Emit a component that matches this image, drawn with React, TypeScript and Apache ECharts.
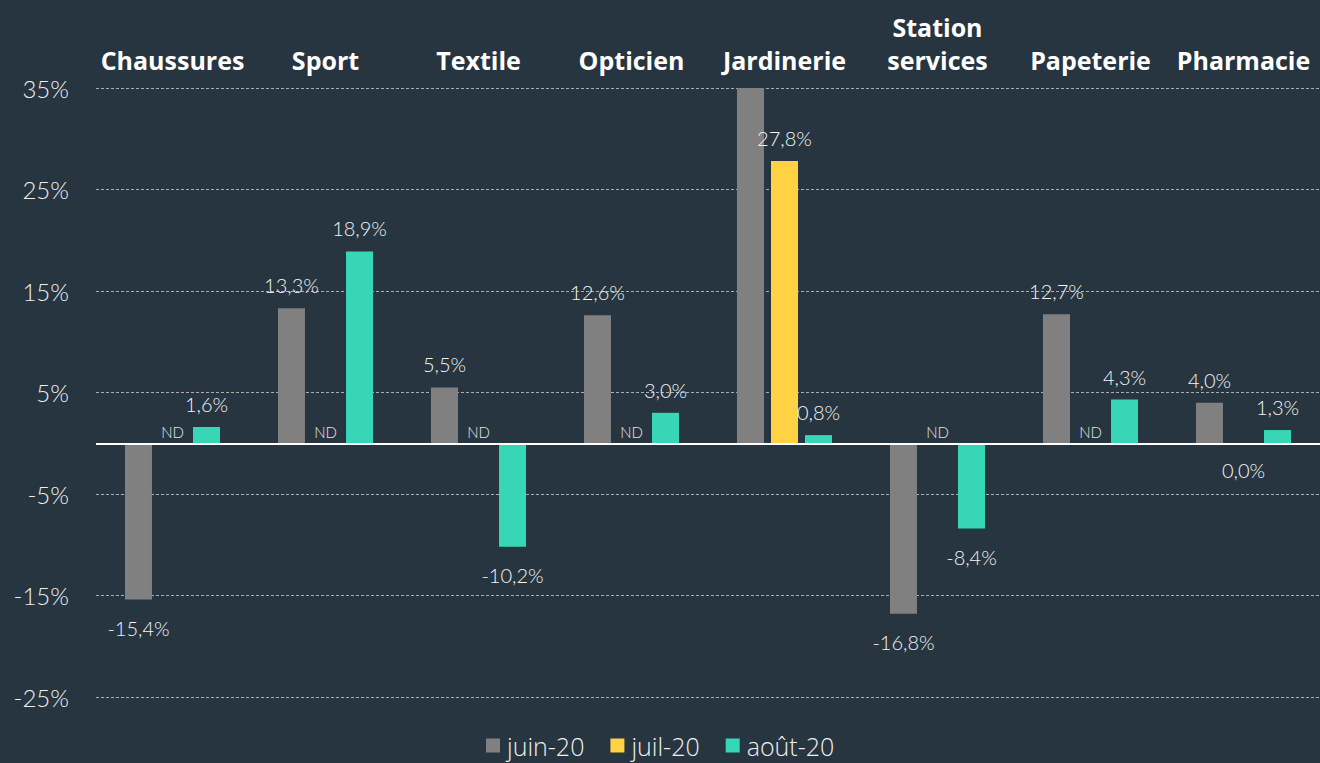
import React, { useEffect, useRef } from "react";
import * as echarts from "echarts";

const categories = ["Chaussures", "Sport", "Textile", "Opticien", "Jardinerie", "Station\nservices", "Papeterie", "Pharmacie"];
const seriesNames = ["juin-20", "juil-20", "août-20"];
// null = ND (non disponible)
const juin: (number | null)[] = [-15.4, 13.3, 5.5, 12.6, 40.0, -16.8, 12.7, 4.0];
const juil: (number | null)[] = [null, null, null, null, 27.8, null, null, 0.0];
const aout: (number | null)[] = [1.6, 18.9, -10.2, 3.0, 0.8, -8.4, 4.3, 1.3];
const colors = ["#808080", "#FFD244", "#37D6B6"];
const hiddenLabel = [[0, 4]]; // [series, index] whose label is outside the plot

const FONT = "Lato";
const CAT_FONT = "Open Sans";

function fmt(v: number) {
  return v.toFixed(1).replace(".", ",") + "%";
}

function buildData(vals: (number | null)[], si: number) {
  return vals.map((v, i) => {
    if (v === null) {
      return {
        value: 0,
        label: {
          show: true,
          position: "top",
          distance: 4,
          formatter: "ND",
          fontSize: 15,
          color: "#e6e6e6",
          fontFamily: FONT,
          fontWeight: 300,
        },
      };
    }
    const hide = hiddenLabel.some(([s, k]) => s === si && k === i);
    const pos = v > 0 ? "top" : "bottom";
    return {
      value: v,
      label: {
        show: !hide,
        position: pos,
        distance: v > 0 ? 13 : v === 0 ? 17 : 18,
        formatter: fmt(v),
        fontSize: 20,
        color: "#f4f4f4",
        fontFamily: FONT,
        fontWeight: 300,
      },
    };
  });
}

export default function App() {
  const ref = useRef<HTMLDivElement>(null);
  useEffect(() => {
    if (!ref.current) return;
    const chart = echarts.init(ref.current, null, { renderer: "svg" });
    const all = [juin, juil, aout];
    chart.setOption({
      animation: false,
      backgroundColor: "#263540",
      color: colors,
      grid: { left: 96, width: 1232, top: 88, height: 609, containLabel: false },
      legend: {
        top: 733,
        left: 486,
        padding: 0,
        icon: "rect",
        itemWidth: 14,
        itemHeight: 14,
        itemGap: 26,
        textStyle: {
          color: "#f0f0f0",
          fontSize: 25,
          lineHeight: 24,
          fontFamily: CAT_FONT,
          fontWeight: 300,
          padding: [0, 0, 0, 2],
        },
        data: seriesNames,
      },
      xAxis: {
        type: "category",
        position: "top",
        data: categories,
        axisLine: { show: false },
        axisTick: { show: false },
        axisLabel: {
          color: "#ffffff",
          fontSize: 25,
          fontWeight: "bold",
          fontFamily: CAT_FONT,
          margin: 12,
          interval: 0,
          lineHeight: 33,
        },
      },
      yAxis: {
        type: "value",
        min: -25,
        max: 35,
        interval: 10,
        axisLine: { show: false },
        axisTick: { show: false },
        axisLabel: {
          color: "#f0f0f0",
          fontSize: 24,
          fontFamily: FONT,
          fontWeight: 300,
          margin: 27,
          formatter: (v: number) => v + "%",
        },
        splitLine: { lineStyle: { color: "#aab0b5", type: [3, 2], width: 1 } },
      },
      series: all.map((vals, si) => ({
        name: seriesNames[si],
        type: "bar",
        barWidth: 27,
        barGap: "26%",
        clip: true,
        data: buildData(vals, si),
        itemStyle: { color: colors[si] },
        markLine:
          si === 0
            ? {
                silent: true,
                symbol: ["none", "none"],
                label: { show: false },
                lineStyle: { color: "#ffffff", type: "solid", width: 2 },
                data: [{ yAxis: 0 }],
              }
            : undefined,
      })),
    });
    return () => chart.dispose();
  }, []);
  return (
    <div
      ref={ref}
      style={{ position: "fixed", left: 0, top: 0, width: 1320, height: 763 }}
    />
  );
}
